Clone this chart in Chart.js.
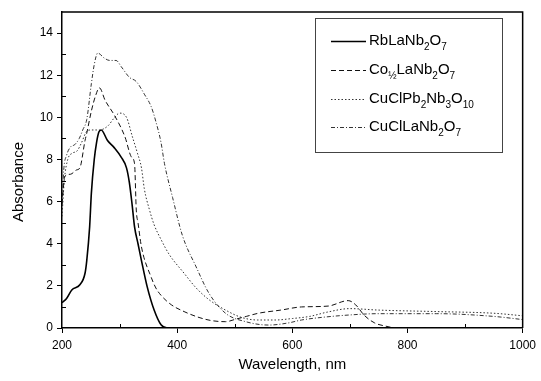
<!DOCTYPE html>
<html>
<head>
<meta charset="utf-8">
<script src="https://cdn.jsdelivr.net/npm/chart.js@4.4.0/dist/chart.umd.min.js"></script>
<style>
  html, body { margin: 0; padding: 0; background: #fff; }
</style>
</head>
<body>
<canvas id="chart" width="541" height="381"></canvas>
<script>
// RbLaNb2O7 (solid)
const rbWl  = [200, 208, 217, 231, 240, 243, 248, 251, 256, 260, 264, 268, 279, 291, 303, 312, 317, 322, 326, 332, 338, 348, 360, 372, 383, 400, 500, 600, 700, 800, 900, 1000]
const rbAbs = [1.2, 1.4, 1.8, 2.05, 2.6, 3.2, 4.8, 6.4, 8.0, 8.8, 9.3, 9.4, 8.9, 8.55, 8.1, 7.6, 6.9, 5.8, 4.8, 4.0, 3.2, 1.95, 0.85, 0.15, 0.0, 0, 0, 0, 0, 0, 0, 0]

// Co1/2LaNb2O7 (dashed)
const coWl  = [200, 205, 215, 225, 231, 240, 243, 251, 258, 265, 275, 291, 309, 321, 326, 329, 332, 338, 355, 363, 372, 390, 412, 438, 460, 484, 502, 520, 541, 580, 616, 662, 697, 710, 725, 743, 760, 783, 850, 1000]
const coAbs = [5.9, 7.2, 7.3, 7.5, 7.6, 8.9, 9.25, 10.3, 11.0, 11.4, 10.8, 10.1, 9.1, 8.1, 7.8, 5.6, 5.0, 3.85, 2.4, 1.9, 1.55, 1.1, 0.78, 0.5, 0.35, 0.3, 0.42, 0.55, 0.7, 0.85, 1.0, 1.04, 1.3, 1.1, 0.6, 0.24, 0.1, 0.0, 0, 0]

// CuClPb2Nb3O10 (dotted)
const pbWl  = [200, 204, 210, 218, 226, 234, 242, 250, 265, 280, 290, 300, 312, 322, 331, 338, 343, 352, 360, 372, 386, 412, 433, 455, 484, 512, 540, 570, 600, 630, 660, 700, 750, 850, 950, 1000]
const pbAbs = [5.3, 7.0, 8.0, 8.3, 8.4, 8.8, 9.3, 9.4, 9.4, 9.6, 9.95, 10.2, 10.0, 9.1, 8.3, 7.6, 6.6, 5.6, 4.9, 4.2, 3.5, 2.6, 1.9, 1.35, 0.85, 0.5, 0.38, 0.38, 0.45, 0.55, 0.75, 0.92, 0.85, 0.78, 0.7, 0.58]

// CuClLaNb2O7 (dash-dot)
const laWl  = [200, 203, 208, 215, 222, 230, 236, 243, 251, 256, 262, 274, 283, 294, 303, 317, 329, 343, 355, 363, 372, 378, 392, 409, 433, 455, 484, 519, 559, 593, 616, 650, 700, 750, 850, 950, 1000]
const laAbs = [5.8, 7.5, 8.2, 8.6, 8.7, 9.0, 9.4, 9.9, 11.6, 12.5, 13.05, 12.8, 12.7, 12.7, 12.4, 11.9, 11.7, 11.1, 10.5, 9.8, 8.8, 7.8, 6.2, 4.4, 2.9, 1.66, 0.7, 0.3, 0.14, 0.24, 0.38, 0.5, 0.62, 0.68, 0.68, 0.55, 0.4]

const xTicks = [200, 400, 600, 800, 1000]
const yTicks = [0, 2, 4, 6, 8, 10, 12, 14]
const xMinor = [300, 500, 700, 900]
const yMinor = [1, 3, 5, 7, 9, 11, 13]

// legend text pieces: [text, isSubscript]
const legendLabels = [
  [["RbLaNb", 0], ["2", 1], ["O", 0], ["7", 1]],
  [["Co", 0], ["½", 1], ["LaNb", 0], ["2", 1], ["O", 0], ["7", 1]],
  [["CuClPb", 0], ["2", 1], ["Nb", 0], ["3", 1], ["O", 0], ["10", 1]],
  [["CuClLaNb", 0], ["2", 1], ["O", 0], ["7", 1]]
]

const FONT = "'Liberation Sans', Arial, sans-serif"

const toPoints = (xs, ys) => xs.map((x, i) => ({ x: x, y: ys[i] }))

const series = [
  { data: toPoints(rbWl, rbAbs), color: "#000", width: 1.6, dash: [] },
  { data: toPoints(coWl, coAbs), color: "#111", width: 1, dash: [5, 3] },
  { data: toPoints(pbWl, pbAbs), color: "#333", width: 1, dash: [1.5, 2] },
  { data: toPoints(laWl, laAbs), color: "#333", width: 1, dash: [4, 2, 1, 2] }
]

const framePlugin = {
  id: "frame",
  afterDraw(chart) {
    const ctx = chart.ctx
    const a = chart.chartArea
    const xs = chart.scales.x
    const ys = chart.scales.y
    ctx.save()
    ctx.strokeStyle = "#000"
    ctx.lineWidth = 1.5
    ctx.beginPath()
    ctx.moveTo(a.left, a.top)
    ctx.lineTo(a.right, a.top)
    ctx.lineTo(a.right, a.bottom)
    ctx.stroke()

    // minor ticks pointing inward
    ctx.lineWidth = 1
    ctx.beginPath()
    xMinor.forEach(v => {
      const px = Math.round(xs.getPixelForValue(v)) + 0.5
      ctx.moveTo(px, a.bottom)
      ctx.lineTo(px, a.bottom - 4)
    })
    yMinor.forEach(v => {
      const py = Math.round(ys.getPixelForValue(v)) + 0.5
      ctx.moveTo(a.left, py)
      ctx.lineTo(a.left + 4, py)
    })
    ctx.stroke()

    // y axis title, sits a little below the plot centre in the reference
    ctx.save()
    ctx.translate(19, 182)
    ctx.rotate(-Math.PI / 2)
    ctx.font = "15px " + FONT
    ctx.fillStyle = "#000"
    ctx.textAlign = "center"
    ctx.textBaseline = "middle"
    ctx.fillText("Absorbance", 0, 0)
    ctx.restore()

    // legend box
    const box = { x: 315.5, y: 18.5, w: 187, h: 134 }
    ctx.strokeStyle = "#444"
    ctx.lineWidth = 1
    ctx.strokeRect(box.x, box.y, box.w, box.h)
    const rows = [41, 70, 99, 127]
    ctx.fillStyle = "#000"
    ctx.textBaseline = "middle"
    ctx.textAlign = "left"
    legendLabels.forEach((parts, i) => {
      const s = series[i]
      const y = rows[i]
      ctx.beginPath()
      ctx.strokeStyle = s.color
      ctx.lineWidth = s.width
      ctx.setLineDash(s.dash)
      ctx.moveTo(331, y + 0.5)
      ctx.lineTo(366, y + 0.5)
      ctx.stroke()
      ctx.setLineDash([])
      let x = 369
      parts.forEach(([txt, sub]) => {
        ctx.font = sub ? "10px " + FONT : "15px " + FONT
        ctx.fillText(txt, x, sub ? y + 6 : y)
        x += ctx.measureText(txt).width
      })
    })
    ctx.restore()
  }
}

new Chart(document.getElementById("chart"), {
  type: "line",
  data: {
    datasets: series.map(s => ({
      data: s.data,
      borderColor: s.color,
      borderWidth: s.width,
      borderDash: s.dash,
      pointRadius: 0,
      fill: false,
      cubicInterpolationMode: "monotone"
    }))
  },
  options: {
    responsive: false,
    animation: false,
    layout: { padding: { top: 12, right: 15, left: 0, bottom: 0 } },
    plugins: {
      legend: { display: false },
      tooltip: { enabled: false }
    },
    scales: {
      x: {
        type: "linear",
        min: 200,
        max: 1000,
        afterBuildTicks: s => { s.ticks = xTicks.map(v => ({ value: v })) },
        afterFit: s => { s.height = 53 },
        ticks: {
          color: "#000",
          font: { family: FONT, size: 12 },
          padding: 5,
          maxRotation: 0,
          callback: v => String(v)
        },
        grid: { drawOnChartArea: false, drawTicks: true, tickLength: 5, color: "#000" },
        border: { display: true, color: "#000", width: 1.5 },
        title: {
          display: true,
          text: "Wavelength, nm",
          color: "#000",
          font: { family: FONT, size: 15 },
          padding: { top: 0, bottom: 7 }
        }
      },
      y: {
        min: 0,
        max: 15,
        afterBuildTicks: s => { s.ticks = yTicks.map(v => ({ value: v })) },
        afterFit: s => { s.width = 62 },
        ticks: { color: "#000", font: { family: FONT, size: 12 }, padding: 4 },
        grid: { drawOnChartArea: false, drawTicks: true, tickLength: 5, color: "#000" },
        border: { display: true, color: "#000", width: 1.5 }
      }
    }
  },
  plugins: [framePlugin]
})
</script>
</body>
</html>
